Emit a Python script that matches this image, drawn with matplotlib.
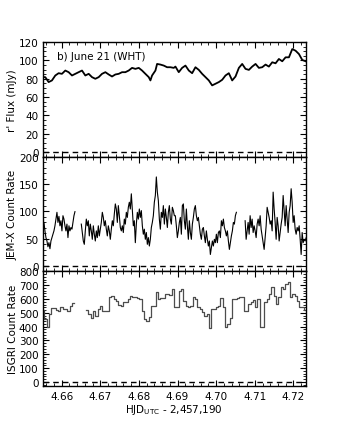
import numpy as np
import matplotlib
matplotlib.use("Agg")
import matplotlib.pyplot as plt
from matplotlib.ticker import MultipleLocator

# ---------------- data ----------------
opt_time = [4.6549, 4.65576, 4.65663, 4.65749, 4.65836, 4.65922, 4.66008, 4.66095, 4.66181, 4.66268,
            4.66354, 4.6644, 4.66527, 4.66613, 4.667, 4.66786, 4.66872, 4.66959, 4.67045, 4.67132,
            4.67218, 4.67304, 4.67391, 4.67477, 4.67564, 4.6765, 4.67736, 4.67823, 4.67909, 4.67996,
            4.68082, 4.68168, 4.68255, 4.68298, 4.68341, 4.68428, 4.68471, 4.68557, 4.68644, 4.6873,
            4.68816, 4.68903, 4.68946, 4.69032, 4.69119, 4.69205, 4.69292, 4.69378, 4.69464, 4.69551,
            4.69637, 4.69724, 4.6981, 4.69896, 4.69983, 4.70069, 4.70156, 4.70242, 4.70328, 4.70415,
            4.70501, 4.70588, 4.70674, 4.7076, 4.70847, 4.70933, 4.7102, 4.71106, 4.71192, 4.71279,
            4.71365, 4.71452, 4.71538, 4.71624, 4.71711, 4.71797, 4.71884, 4.7197, 4.72056, 4.72143,
            4.72229, 4.72316]
opt_flux = [81.8, 81.8, 76.4, 78.2, 83.6, 86.1, 85.4, 89.0, 87.2, 83.6,
            85.4, 87.2, 89.0, 83.6, 85.4, 81.8, 80.0, 81.8, 85.4, 87.2,
            84.7, 82.5, 84.7, 85.4, 87.2, 87.2, 89.0, 91.9, 90.8, 91.9,
            89.0, 85.4, 81.8, 78.2, 83.6, 89.0, 96.2, 95.5, 94.4, 92.6,
            92.6, 91.9, 93.3, 87.2, 91.9, 94.4, 89.0, 86.1, 92.6, 89.7,
            85.4, 81.8, 78.2, 72.8, 74.6, 76.4, 78.9, 83.6, 86.1, 78.2,
            82.5, 91.9, 96.2, 90.8, 89.7, 93.3, 96.2, 91.9, 92.6, 95.5,
            93.3, 98.0, 96.9, 101.6, 99.1, 103.4, 103.4, 112.4, 110.6, 107.0,
            100.5, 99.1]

# JEM-X light curve: three continuous segments (start time, bin width, rates)
jemx_bin = 0.000259
jemx_start = [4.6549, 4.66509, 4.7075]
jemx_seg1 = [82.8, 67.3, 79.7, 64.2, 51.9, 45.7, 35.2, 42.6, 31.5, 45.7,
             51.9, 58.1, 64.2, 73.5, 85.8, 98.2, 79.7, 90.8, 73.5, 82.8,
             64.2, 92.0, 85.8, 73.5, 64.2, 76.6, 51.9, 73.5, 64.2, 70.4,
             67.3, 79.7, 92.0, 99.4]
jemx_seg2 = [76.6, 61.2, 45.7, 39.6, 64.2, 85.8, 73.5, 82.8, 55.0, 76.6,
             64.2, 48.8, 73.5, 58.1, 45.7, 64.2, 51.9, 73.5, 55.0, 67.3,
             79.7, 98.2, 88.9, 73.5, 82.8, 67.3, 55.0, 73.5, 64.2, 48.8,
             67.3, 82.8, 73.5, 95.1, 113.6, 104.3, 79.7, 110.5, 92.0, 70.4,
             64.2, 73.5, 61.2, 85.8, 76.6, 98.2, 88.9, 107.4, 116.7, 104.3,
             132.1, 101.3, 73.5, 82.8, 42.6, 76.6, 98.2, 85.8, 104.3, 88.9,
             101.3, 73.5, 58.1, 67.3, 48.8, 61.2, 39.6, 51.9, 36.5, 48.8,
             70.4, 79.7, 92.0, 116.7, 129.0, 163.0, 135.2, 119.8, 85.8, 67.3,
             98.2, 88.9, 110.5, 76.6, 104.3, 88.9, 70.4, 98.2, 110.5, 85.8,
             76.6, 107.4, 101.3, 92.0,
             92.0, 73.5, 51.9, 64.2, 79.7, 88.9, 58.1, 110.5, 113.6, 82.8,
             67.3, 104.3, 73.5, 48.8, 82.8, 61.2, 48.8, 76.6, 88.9, 104.3,
             110.5, 92.0, 82.8, 88.9, 73.5, 58.1, 48.8, 67.3, 70.4, 55.0,
             42.6, 64.2, 48.8, 36.5, 45.7, 21.0, 33.4, 45.7, 36.5, 48.8,
             42.6, 58.1, 42.6, 61.2, 64.2, 51.9, 82.8, 73.5, 85.8, 70.4,
             64.2, 55.0, 64.2, 45.7, 30.3, 42.6, 55.0, 64.2, 79.7, 76.6,
             92.0, 98.2]
jemx_seg3 = [82.8, 48.8, 64.2, 79.7, 58.1, 92.0, 70.4, 85.8, 61.2, 73.5,
             64.2, 51.9, 76.6, 85.8, 73.5, 92.0, 67.3, 55.0, 42.6, 30.3,
             51.9, 73.5, 107.4, 98.2, 88.9, 76.6, 82.8, 64.2, 135.2, 104.3,
             79.7, 48.8, 88.9, 73.5, 45.7, 61.2, 76.6, 88.9, 129.0, 101.3,
             73.5, 110.5, 85.8, 61.2, 98.2, 110.5, 141.4, 116.7, 79.7, 92.0,
             67.3, 58.1, 70.4, 64.2, 73.5, 48.8, 21.0, 61.2, 42.6, 48.8,
             45.7, 51.9, 45.7]

# ISGRI light curve: fixed bins, NaN = no data
isgri_start = 4.6549
isgri_bin = 0.0006
isgri_rate = [520, 455, 401, 495, 532, 532, 522, 515, 539, 530, 530, 515, 546, 568,
              np.nan, np.nan, np.nan, np.nan, np.nan,
              522, 490, 466, 515, 480, 527, 551, 510, 515, 515,
              611, 623, 600, 587, 555, 551, 575, 575, 599, 623,
              615, 611, 605, 599, 515, 454, 442, 470, 551, 551,
              648, 599, 606, 606, 635, 635, 630, 672, 539,
              539, 660, 672, 587, 551, 539, 551, 611, 599, 539,
              527, 503, 479, 490, 387, 527, 527, 539, 551, 606,
              539, 394, 418, 466, 599, 599, 606, 611, 611, 515,
              515, 563, 575, 592, 539, 599, 394, 394, 575, 599,
              635, 684, 620, 563, 611, 684, 672, 708, 720, 611,
              635, 623, 587, 545, 539, 520]

x_ticks = [4.66, 4.67, 4.68, 4.69, 4.70, 4.71, 4.72]
x_ticklabels = ["4.66", "4.67", "4.68", "4.69", "4.70", "4.71", "4.72"]

# ---------------- figure ----------------
plt.rcParams.update({
    "font.family": ["DejaVu Sans"],
    "font.size": 7.5,
    "xtick.direction": "in",
    "ytick.direction": "in",
    "xtick.top": True,
    "ytick.right": True,
    "xtick.major.size": 4,
    "ytick.major.size": 4,
    "xtick.minor.size": 2,
    "ytick.minor.size": 2,
    "xtick.major.pad": 3.5,
    "ytick.major.pad": 3,
    "axes.linewidth": 1.0,
})

fig, axes = plt.subplots(3, 1, figsize=(3.39, 4.31), dpi=100, sharex=True)
fig.subplots_adjust(left=0.126, right=0.902, top=0.900, bottom=0.102, hspace=0)
ax1, ax2, ax3 = axes

ax1.plot(opt_time, opt_flux, color="k", lw=1.3)
for t0, seg in zip(jemx_start, [jemx_seg1, jemx_seg2, jemx_seg3]):
    t = t0 + jemx_bin * np.arange(len(seg))
    ax2.plot(t, seg, color="k", lw=0.8)

rate = np.array(isgri_rate, dtype=float)
edges = isgri_start + isgri_bin * np.arange(len(rate) + 1)
ax3.step(edges, np.append(rate, rate[-1]), where="post", color="0.3", lw=0.9)

for ax in axes:
    ax.axhline(0, color="k", ls="--", lw=1.0, dashes=(4, 3))
    ax.set_xlim(4.6551, 4.7232)
    ax.xaxis.set_minor_locator(MultipleLocator(0.002))

ax1.set_ylim(-5, 120)
ax1.yaxis.set_major_locator(MultipleLocator(20))
ax1.yaxis.set_minor_locator(MultipleLocator(5))
ax1.set_ylabel("r' Flux (mJy)", labelpad=1)
ax1.text(0.054, 0.878, "b) June 21 (WHT)", transform=ax1.transAxes, ha="left", va="center")

ax2.set_ylim(-10, 200)
ax2.yaxis.set_major_locator(MultipleLocator(50))
ax2.yaxis.set_minor_locator(MultipleLocator(10))
ax2.set_ylabel("JEM-X Count Rate", labelpad=1)

ax3.set_ylim(-30, 800)
ax3.yaxis.set_major_locator(MultipleLocator(100))
ax3.yaxis.set_minor_locator(MultipleLocator(20))
ax3.set_ylabel("ISGRI Count Rate", labelpad=1)

ax3.set_xticks(x_ticks)
ax3.set_xticklabels(x_ticklabels)
ax3.set_xlabel(r"HJD$_{\mathrm{UTC}}$ - 2,457,190", labelpad=1)

fig.savefig("out.png", dpi=100)
